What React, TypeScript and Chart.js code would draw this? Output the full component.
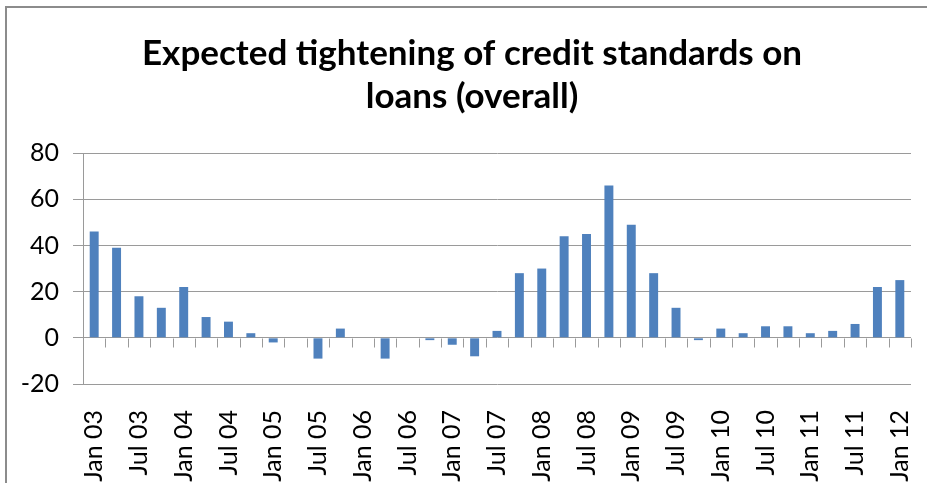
import React, { useEffect, useRef } from "react";
import { Chart, registerables } from "chart.js";

Chart.register(...registerables);

const titleLines = ["Expected tightening of credit standards on", "loans (overall)"];

const categories = [
  "Jan 03", "Apr 03", "Jul 03", "Oct 03",
  "Jan 04", "Apr 04", "Jul 04", "Oct 04",
  "Jan 05", "Apr 05", "Jul 05", "Oct 05",
  "Jan 06", "Apr 06", "Jul 06", "Oct 06",
  "Jan 07", "Apr 07", "Jul 07", "Oct 07",
  "Jan 08", "Apr 08", "Jul 08", "Oct 08",
  "Jan 09", "Apr 09", "Jul 09", "Oct 09",
  "Jan 10", "Apr 10", "Jul 10", "Oct 10",
  "Jan 11", "Apr 11", "Jul 11", "Oct 11",
  "Jan 12",
];

const values = [
  46, 39, 18, 13,
  22, 9, 7, 2,
  -2, 0, -9, 4,
  0, -9, 0, -1,
  -3, -8, 3, 28,
  30, 44, 45, 66,
  49, 28, 13, -1,
  4, 2, 5, 5,
  2, 3, 6, 22,
  25,
];

const yMin = -20;
const yMax = 80;
const yStep = 20;

const FONT = "Lato, 'Open Sans', sans-serif";
const GRID = "#9a9a9a";

const framePlugin = {
  id: "frame",
  beforeDraw(chart: any) {
    const ctx = chart.ctx;
    ctx.save();
    ctx.fillStyle = "#ffffff";
    ctx.fillRect(0, 0, chart.width, chart.height);
    ctx.strokeStyle = "#8c8c8c";
    ctx.lineWidth = 2;
    ctx.strokeRect(6, 7, chart.width + 20, chart.height + 20);
    ctx.restore();
  },
};

const zeroTicksPlugin = {
  id: "zeroTicks",
  afterDraw(chart: any) {
    const xs = chart.scales.x;
    const ys = chart.scales.y;
    const ctx = chart.ctx;
    const y0 = Math.round(ys.getPixelForValue(0)) + 0.5;
    const n = categories.length;
    const w = (xs.right - xs.left) / n;
    ctx.save();
    ctx.strokeStyle = GRID;
    ctx.lineWidth = 1;
    ctx.beginPath();
    for (let i = 1; i <= n; i++) {
      const x = Math.round(xs.left + i * w) + 0.5;
      ctx.moveTo(x, y0);
      ctx.lineTo(x, y0 + 9);
    }
    ctx.stroke();
    ctx.restore();
  },
};

export default function App() {
  const ref = useRef<HTMLCanvasElement | null>(null);

  useEffect(() => {
    document.body.style.margin = "0";
    const canvas = ref.current!;
    const chart = new Chart(canvas, {
      type: "bar",
      data: {
        labels: categories,
        datasets: [
          {
            data: values,
            backgroundColor: "#4F81BD",
            borderWidth: 0,
            barPercentage: 0.4,
            categoryPercentage: 1,
          },
        ],
      },
      options: {
        responsive: false,
        animation: false,
        layout: { padding: { left: 17, right: 0, top: 0, bottom: 0 } },
        plugins: {
          legend: { display: false },
          tooltip: { enabled: false },
          title: {
            display: true,
            text: titleLines,
            color: "#000000",
            font: { family: FONT, size: 35, weight: "bold", lineHeight: 1.23 },
            padding: { top: 32, bottom: 35 },
          },
        },
        scales: {
          x: {
            position: "bottom",
            grid: { display: false },
            border: { display: false },
            ticks: {
              autoSkip: false,
              minRotation: 90,
              maxRotation: 90,
              padding: 18,
              color: "#000000",
              font: { family: FONT, size: 25 },
              callback: (_v: any, i: number) => (i % 2 === 0 ? categories[i] : ""),
            },
            afterFit: (s: any) => {
              s.height = 99;
              s.paddingLeft = 0;
              s.paddingRight = 0;
            },
          },
          y: {
            min: yMin,
            max: yMax,
            position: "left",
            grid: { color: GRID, lineWidth: 1, tickLength: 10 },
            border: { display: true, color: GRID, width: 1 },
            ticks: {
              stepSize: yStep,
              padding: 14,
              color: "#000000",
              font: { family: FONT, size: 25 },
            },
            afterFit: (s: any) => {
              s.width = 66;
            },
          },
          yRight: {
            position: "right",
            display: true,
            grid: { display: false },
            border: { display: false },
            ticks: { display: false },
            afterFit: (s: any) => {
              s.width = 16;
            },
          },
        },
      },
      plugins: [framePlugin, zeroTicksPlugin],
    } as any);
    return () => chart.destroy();
  }, []);

  return (
    <div style={{ position: "absolute", left: 0, top: 0, width: 927, height: 483 }}>
      <canvas ref={ref} width={927} height={483} />
    </div>
  );
}
